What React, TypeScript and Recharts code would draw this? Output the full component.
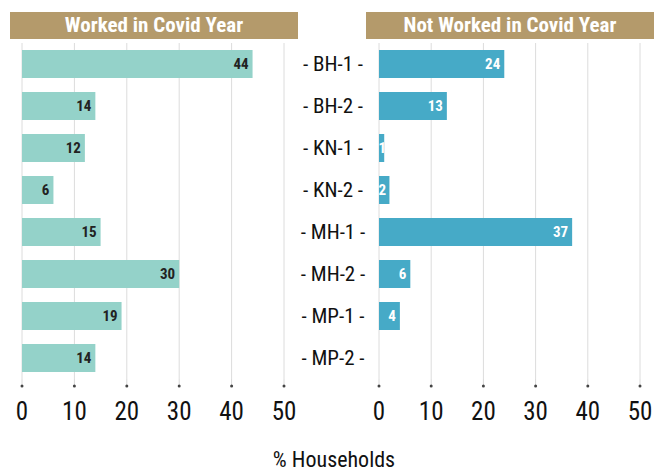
import { BarChart, Bar, XAxis, YAxis, CartesianGrid, LabelList } from "recharts";

const regions = ["BH-1", "BH-2", "KN-1", "KN-2", "MH-1", "MH-2", "MP-1", "MP-2"];
const worked = [44, 14, 12, 6, 15, 30, 19, 14];
const notWorked: (number | null)[] = [24, 13, 1, 2, 37, 6, 4, null];
const xTicks = [0, 10, 20, 30, 40, 50];

const rows = regions.map((region, i) => ({
  region,
  worked: worked[i],
  notWorked: notWorked[i],
}));

const FONT = "'Liberation Sans Narrow', 'Roboto Condensed', 'DejaVu Sans Condensed', sans-serif";
const GOLD = "#b49a6b";

const XTick = (props: any) => {
  const { x, y, payload } = props;
  return (
    <g>
      <line x1={x} x2={x} y1={y} y2={y + 7} stroke="#d8d8d8" />
      <circle cx={x} cy={y + 7} r={1.5} fill="#444" />
      <text x={x} y={y + 32} textAnchor="middle" dominantBaseline="central" fontSize={25} fill="#111" fontFamily={FONT} style={{ fontStretch: "condensed" }}>
        {payload.value}
      </text>
    </g>
  );
};

const RegionTick = (props: any) => {
  const { y, payload } = props;
  return (
    <text x={33} y={y} textAnchor="middle" dominantBaseline="central" fontSize={21} fill="#111" fontFamily={FONT} style={{ fontStretch: "condensed" }}>
      {`- ${payload.value} -`}
    </text>
  );
};

const makeLabel = (color: string) => (props: any) => {
  const { x, y, width, height, value } = props;
  if (value == null) return null;
  const tx = Math.max(x + width - 4, x + 7);
  return (
    <text x={tx} y={y + height / 2} textAnchor="end" dominantBaseline="central" fontSize={15} fontWeight="bold" fill={color} fontFamily={FONT} style={{ fontStretch: "condensed" }}>
      {value}
    </text>
  );
};

const Header = ({ left, text }: { left: number; text: string }) => (
  <div
    style={{
      position: "absolute",
      left,
      top: 12,
      width: 288,
      height: 27,
      background: GOLD,
      color: "#fff",
      fontFamily: FONT,
      fontStretch: "condensed",
      fontWeight: "bold",
      fontSize: 21,
      lineHeight: "27px",
      textAlign: "center",
    }}
  >
    {text}
  </div>
);

export default function App() {
  return (
    <div style={{ position: "absolute", left: 0, top: 0, width: 654, height: 472, background: "#fff", overflow: "hidden" }}>
      <Header left={10} text="Worked in Covid Year" />
      <Header left={366} text="Not Worked in Covid Year" />

      <div style={{ position: "absolute", left: 0, top: 0 }}>
        <BarChart width={300} height={430} data={rows} layout="vertical" margin={{ top: 43, right: 16, left: 22, bottom: 0 }} barSize={28}>
          <CartesianGrid horizontal={false} stroke="#dcdcdc" />
          <XAxis type="number" domain={[0, 50]} ticks={xTicks} axisLine={false} tickLine={false} tickSize={0} tickMargin={0} height={51} tick={<XTick />} interval={0} />
          <YAxis type="category" dataKey="region" hide />
          <Bar dataKey="worked" fill="#94d2c9" isAnimationActive={false}>
            <LabelList dataKey="worked" content={makeLabel("#222")} />
          </Bar>
        </BarChart>
      </div>

      <div style={{ position: "absolute", left: 300, top: 0 }}>
        <BarChart width={354} height={430} data={rows} layout="vertical" margin={{ top: 43, right: 14, left: 0, bottom: 0 }} barSize={28}>
          <CartesianGrid horizontal={false} stroke="#dcdcdc" />
          <XAxis type="number" domain={[0, 50]} ticks={xTicks} axisLine={false} tickLine={false} tickSize={0} tickMargin={0} height={51} tick={<XTick />} interval={0} />
          <YAxis type="category" dataKey="region" width={79} axisLine={false} tickLine={false} tick={<RegionTick />} interval={0} />
          <Bar dataKey="notWorked" fill="#46aac7" isAnimationActive={false}>
            <LabelList dataKey="notWorked" content={makeLabel("#fff")} />
          </Bar>
        </BarChart>
      </div>

      <div style={{ position: "absolute", left: 0, top: 447, width: 668, textAlign: "center", fontFamily: FONT, fontStretch: "condensed", fontSize: 22, color: "#111" }}>
        % Households
      </div>
    </div>
  );
}
